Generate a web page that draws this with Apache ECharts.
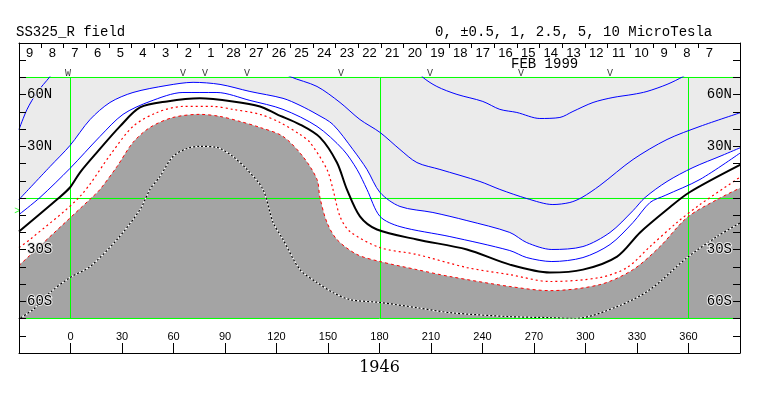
<!DOCTYPE html>
<html>
<head>
<meta charset="utf-8">
<script src="https://cdn.jsdelivr.net/npm/echarts@6/dist/echarts.min.js"></script>
<style>
html, body { margin: 0; padding: 0; background: #fff; }
#chart { width: 763px; height: 396px; }
</style>
</head>
<body>
<div id="chart"></div>
<script>
// contour traces, [longitude, latitude]
var lightEdge = [[-30,-1.2],[-11.9,18.0],[-0.3,30.2],[11.4,45.3],[23.0,55.2],[36.4,61.0],[56.2,65.1],[71.4,66.9],[87.1,65.7],[104.5,61.6],[123.8,57.6],[133.7,53.5],[143.6,48.3],[152.9,42.4],[164.5,27.9],[172.7,16.3],[180.3,2.9],[191.9,-5.2],[211.1,-8.7],[230.9,-13.4],[255.9,-20.3],[265.8,-26.2],[280.4,-30.2],[298.5,-28.5],[314.3,-20.3],[327.7,-7.6],[334.7,0],[347.5,9.3],[362.6,17.4],[379.5,24.4],[390.6,29.1]];
var blue2 = [[-30,-9.9],[-17.8,0],[-0.3,16.9],[17.2,35.5],[30.6,48.3],[46.3,55.8],[65.5,61.0],[85.3,61.0],[104.5,56.4],[123.8,51.2],[143.6,41.3],[158.7,27.9],[166.9,16.3],[172.7,4.7],[180.3,-11.0],[191.9,-16.9],[221.0,-22.7],[255.9,-30.8],[265.8,-34.9],[280.4,-37.2],[298.5,-34.9],[314.3,-27.3],[327.7,-14.5],[337.6,-2.9],[346.4,1.2],[366.7,10.5],[390.6,26.2]];
var blueA = [[122.0,74.4],[127.8,70.3],[143.6,64.5],[157.0,55.2],[168.6,45.3],[180.3,37.8],[191.9,27.9],[201.8,20.3],[215.2,16.3],[238.5,9.3],[250.1,4.7],[265.8,-0.6],[281.0,-4.1],[290.9,-2.9],[297.9,0],[308.4,7.0],[327.7,22.1],[347.5,33.7],[366.7,41.3],[390.6,49.4]];
var blueB = [[202.7,74.4],[204.7,70.3],[213.4,64.5],[225.1,59.9],[240.2,55.8],[250.1,51.2],[260.0,49.4],[273.4,45.9],[285.1,46.5],[292.7,50.0],[304.4,55.2],[316.0,58.1],[327.7,59.9],[335.8,61.6],[347.5,65.7],[356.9,70.3],[360.9,73.3]];
var blueC = [[-30,39.5],[-25.3,51.2],[-19.5,61.0],[-11.9,70.3],[-9.0,74.4]];
var blackZero = [[-30,-19.8],[-7.9,-1.2],[-0.3,5.8],[5.5,14.5],[15.4,26.2],[28.8,41.3],[40.5,52.3],[56.2,55.8],[75.4,57.6],[94.6,55.8],[110.4,52.9],[120.3,48.3],[133.7,42.4],[145.3,34.9],[155.2,20.3],[161.0,4.7],[168.6,-11.0],[178.5,-18.6],[201.8,-24.4],[230.9,-30.2],[255.9,-39.0],[279.2,-43.6],[298.5,-41.9],[318.4,-34.3],[331.8,-20.3],[347.5,-7.0],[360.4,2.9],[390.6,19.2]];
var redDotted = [[-30,-29.1],[-23.6,-24.4],[5.5,0.6],[24.2,26.2],[36.4,41.3],[50.4,49.4],[65.5,52.9],[83.0,52.9],[94.6,51.2],[110.4,48.3],[122.0,43.6],[133.7,36.6],[139.5,32.0],[149.4,16.3],[152.9,4.7],[157.0,-11.0],[162.8,-19.8],[180.3,-29.1],[201.8,-33.1],[230.9,-40.7],[255.9,-44.8],[279.2,-48.8],[308.4,-46.5],[324.2,-40.7],[337.6,-28.5],[353.3,-14.5],[366.7,-4.1],[390.6,12.2]];
var grayEdge = [[-30,-39.5],[13.1,0.6],[17.2,4.7],[27.1,18.0],[36.4,32.0],[46.3,40.7],[59.7,46.5],[75.4,48.3],[87.1,47.1],[98.7,44.2],[110.4,40.7],[123.8,35.5],[135.4,23.8],[143.6,10.5],[145.3,0],[149.4,-14.5],[155.2,-24.4],[166.9,-33.1],[180.3,-37.2],[201.8,-41.9],[221.0,-45.9],[255.9,-51.7],[279.2,-54.1],[308.4,-50.6],[327.7,-41.9],[343.4,-28.5],[359.2,-11.6],[376.6,-1.2],[390.6,5.8]];
var innerDotted = [[-31,-71],[-21.8,-65.1],[-11.9,-55.2],[-0.3,-46.5],[11.4,-40.1],[27.1,-24.4],[40.5,-7.0],[46.3,4.7],[52.1,12.2],[59.7,23.8],[67.9,28.5],[75.4,29.7],[85.3,29.1],[94.6,23.8],[102.8,16.3],[112.1,4.7],[118.0,-14.5],[123.8,-24.4],[133.7,-41.9],[143.6,-49.4],[152.9,-55.2],[162.8,-59.3],[180.3,-61.0],[201.8,-64.0],[221.0,-66.9],[255.9,-69.2],[279.2,-69.8],[293.8,-70.3],[318.4,-63.4],[337.6,-53.5],[359.2,-34.9],[376.6,-22.7],[390.6,-14.5]];

// observation marks above the map
var markLons = [-1.5, 65.5, 78.3, 102.8, 157.6, 209.4, 262.4, 314.3];
var markText = ['W', 'V', 'V', 'V', 'V', 'V', 'V', 'V'];
var markLat = 72.2;
var b0Mark = [-31, -7.5];

// carrington day strip
var dayLabels = ['9','8','7','6','5','4','3','2','1','28','27','26','25','24','23','22','21','20','19','18','17','16','15','14','13','12','11','10','9','8','7'];
var dayFirstLon = -23.8;
var dayStep = 13.2;
var latLabels = [-60, -30, 30, 60];
// green guide lines (nudged a hair so they land on whole pixels)
var greenLons = [0, 180.6, 360];
var greenLats = [-0.58, 69.71, -70.29];

var dayCenters = dayLabels.map(function (d, i) { return dayFirstLon + i * dayStep; });
var dayEdges = dayLabels.slice(1).map(function (d, i) { return dayFirstLon + (i + 0.5) * dayStep; });

var chart = echarts.init(document.getElementById('chart'));

function latFmt(v) {
  return v > 0 ? v + 'N' : (-v) + 'S';
}

var monoText = { fontFamily: 'Liberation Mono', fontSize: 14, fontWeight: 'normal', color: '#000' };
var hiddenAxis = {
  show: false, axisLine: { show: false }, axisTick: { show: false }, axisPointer: { show: false },
  axisLabel: { show: false }, splitLine: { show: false }, splitArea: { show: false }
};

function yFrame(pos) {
  return {
    gridIndex: 0, type: 'value', position: pos, min: -90, max: 90, interval: 10, z: 10,
    axisLine: { show: true, onZero: false, lineStyle: { color: '#000', width: 1 } },
    axisTick: { show: true, inside: true, length: 7, lineStyle: { color: '#000' } },
    axisLabel: {
      show: true, inside: true, margin: 8, customValues: latLabels, formatter: latFmt,
      fontFamily: 'Liberation Mono', fontSize: 14, color: '#000',
      textBorderColor: '#ebebeb', textBorderWidth: 2
    },
    axisPointer: { show: false },
    splitLine: { show: false },
    splitArea: { show: false }
  };
}

function contour(data, color, width, type, z) {
  return {
    type: 'line', xAxisIndex: 2, yAxisIndex: 2, data: data, smooth: 0.3,
    symbol: 'none', showSymbol: false, silent: true, z: z || 4,
    lineStyle: { color: color, width: width, type: type || 'solid' },
    emphasis: { disabled: true }
  };
}

var latTop = greenLats[1], latBottom = greenLats[2];
var greenSeries = greenLons.map(function (v) {
  return { type: 'line', xAxisIndex: 2, yAxisIndex: 2, data: [[v, latBottom], [v, latTop]], symbol: 'none', silent: true, z: 3, clip: false,
    lineStyle: { color: '#00ff00', width: 1 }, emphasis: { disabled: true } };
}).concat(greenLats.map(function (v) {
  return { type: 'line', xAxisIndex: 2, yAxisIndex: 2, data: [[-30, v], [390, v]], symbol: 'none', silent: true, z: 3, clip: false,
    lineStyle: { color: '#00ff00', width: 1 }, emphasis: { disabled: true } };
}));

var option = {
  animation: false,
  backgroundColor: '#fff',
  tooltip: { show: false },
  axisPointer: { show: false },
  title: [
    { text: 'SS325_R field', left: 11, top: 20, textStyle: monoText },
    { text: '0, \u00b10.5, 1, 2.5, 5, 10 MicroTesla', left: 430, top: 20, textStyle: monoText },
    { text: 'FEB 1999', left: 506, top: 52, textStyle: monoText }
  ],
  grid: [
    { left: 19, right: 23, top: 43, bottom: 43, outerBoundsMode: 'none' },
    { left: 19, right: 23, top: 77, bottom: 78, outerBoundsMode: 'none' }
  ],
  xAxis: [
    {
      gridIndex: 0, type: 'value', position: 'bottom', min: -30, max: 390, interval: 30, z: 10,
      axisLine: { show: true, onZero: false, lineStyle: { color: '#000', width: 1 } },
      axisTick: { show: true, inside: true, length: 10, lineStyle: { color: '#000' } },
      axisLabel: {
        show: true, inside: true, margin: 11, color: '#000',
        fontFamily: 'Liberation Sans', fontSize: 11,
        formatter: function (v) { return (v < 0 || v > 360) ? '' : String(v); }
      },
      axisPointer: { show: false },
      splitLine: { show: false },
      splitArea: { show: false },
      name: '1946', nameLocation: 'middle', nameGap: 7, nameMoveOverlap: false,
      nameTextStyle: { fontFamily: 'DejaVu Serif', fontSize: 16, color: '#000' }
    },
    {
      gridIndex: 0, type: 'value', position: 'top', min: -30, max: 390, z: 10,
      axisLine: { show: true, onZero: false, lineStyle: { color: '#000', width: 1 } },
      axisTick: { show: true, inside: true, length: 5, customValues: dayEdges, lineStyle: { color: '#000' } },
      axisLabel: {
        show: true, inside: true, margin: 4, customValues: dayCenters, color: '#000',
        fontFamily: 'Liberation Sans', fontSize: 13,
        formatter: function (v) { return dayLabels[Math.round((v - dayFirstLon) / dayStep)] || ''; }
      },
      axisPointer: { show: false },
      splitLine: { show: false },
      splitArea: { show: false }
    },
    Object.assign({ gridIndex: 1, type: 'value', min: -30, max: 390 }, hiddenAxis)
  ],
  yAxis: [
    yFrame('left'),
    yFrame('right'),
    Object.assign({ gridIndex: 1, type: 'value', min: -70, max: 70 }, hiddenAxis)
  ],
  series: [
    {
      name: 'outside', type: 'line', xAxisIndex: 2, yAxisIndex: 2, data: lightEdge, smooth: 0.3,
      symbol: 'none', silent: true, z: 1,
      lineStyle: { width: 0 },
      areaStyle: { color: '#ebebeb', opacity: 1, origin: 'end' }
    },
    {
      name: 'negative', type: 'line', xAxisIndex: 2, yAxisIndex: 2, data: grayEdge, smooth: 0.3,
      symbol: 'none', silent: true, z: 2,
      lineStyle: { width: 0 },
      areaStyle: { color: '#a4a4a4', opacity: 1, origin: 'start' }
    }
  ].concat(greenSeries).concat([
    contour(grayEdge, '#ff0000', 1, [3, 3]),
    contour(lightEdge, '#0000ff', 1),
    contour(blue2, '#0000ff', 1),
    contour(blueA, '#0000ff', 1),
    contour(blueB, '#0000ff', 1),
    contour(blueC, '#0000ff', 1),
    contour(blackZero, '#000000', 2),
    contour(redDotted, '#ff0000', 1.2, [2, 3]),
    contour(innerDotted, '#ffffff', 1.2),
    contour(innerDotted, '#000000', 1.2, [2, 2]),
    {
      type: 'scatter', xAxisIndex: 0, yAxisIndex: 0, clip: false, silent: true, z: 6,
      symbolSize: 1, itemStyle: { color: 'rgba(0,0,0,0)' },
      data: markLons.map(function (lon, i) { return { name: markText[i], value: [lon, markLat] }; }),
      label: { show: true, position: 'inside', formatter: '{b}', color: '#000', fontFamily: 'Liberation Mono', fontSize: 10 }
    },
    {
      type: 'scatter', xAxisIndex: 0, yAxisIndex: 0, clip: false, silent: true, z: 6,
      symbolSize: 1, itemStyle: { color: 'rgba(0,0,0,0)' },
      data: [{ name: '>', value: b0Mark }],
      label: { show: true, position: 'inside', formatter: '{b}', color: '#00ff00', fontFamily: 'Liberation Mono', fontSize: 10 }
    }
  ])
};

chart.setOption(option);
</script>
</body>
</html>
